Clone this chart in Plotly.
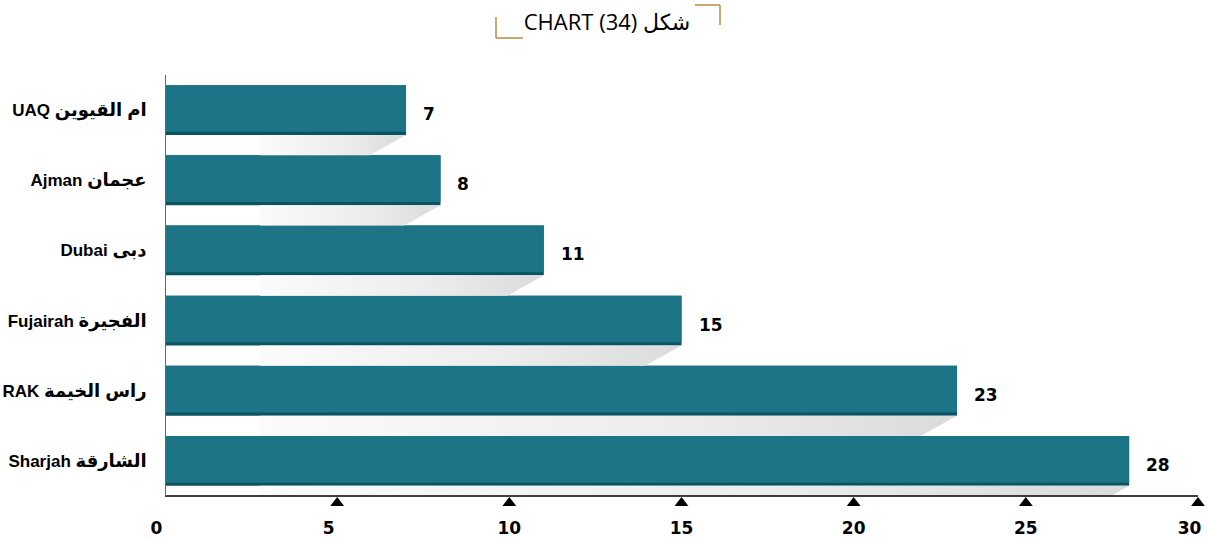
import plotly.graph_objects as go

# ---------------- data ----------------
latin_names = ["UAQ", "Ajman", "Dubai", "Fujairah", "RAK", "Sharjah"]
arabic_names = ["ام القيوين", "عجمان", "دبى", "الفجيرة", "راس الخيمة", "الشارقة"]
values = [7, 8, 11, 15, 23, 28]
x_ticks = [0, 5, 10, 15, 20, 25, 30]
title_text = "CHART (34) شكل"

# ---------------- style / geometry ----------------
W, H = 1208, 540
ML, MR, MT, MB = 165, 1, 75, 33
X_MAX_TICK = 30
PPU_X = (1198 - ML) / X_MAX_TICK          # axis 0..30 spans 165..1198 px
PPU_Y = (496 - MT) / 6.0                  # 6 category slots over 75..496 px
x_max = (W - MR - ML) / PPU_X
y_min = -0.5 - (H - MB - 496) / PPU_Y

TEAL = "#1c7486"
DARK = "#0a5461"
GOLD = "#b9944e"
BAR_W = 0.71
STRIP = 0.045
FONT = "DejaVu Sans, Liberation Sans, sans-serif"
CAT_FONT = "Liberation Sans, Arial, DejaVu Sans, sans-serif"

n = len(values)
pos = [n - 1 - i for i in range(n)]  # first category on top
cat_text = [f"<b>{la} <span style='font-size:18px'>{ar}</span></b>"
            for la, ar in zip(latin_names, arabic_names)]

fig = go.Figure()

# shadows beneath each bar (gradient wedge), cut at the x axis line
for p, v in zip(pos, values):
    y_top = p - BAR_W / 2
    y_bot = p - 1 + BAR_W / 2
    y_eff = max(y_bot, -0.5)
    x_bot = v - 1.05 * (y_top - y_eff) / (y_top - y_bot)
    fig.add_trace(go.Scatter(
        x=[2.76, v, x_bot, 2.76, 2.76],
        y=[y_top, y_top, y_eff, y_eff, y_top],
        mode="lines", line=dict(width=0), fill="toself",
        fillgradient=dict(type="horizontal",
                          colorscale=[[0, "#fbfbfb"], [0.6, "#ececec"], [1, "#dadbdb"]]),
        hoverinfo="skip", showlegend=False,
    ))

# dark bottom strip (full bar) + teal main body
fig.add_trace(go.Bar(
    x=values, y=pos, orientation="h", width=BAR_W,
    marker=dict(color=DARK, line=dict(width=0)),
    hoverinfo="skip", showlegend=False,
))
fig.add_trace(go.Bar(
    x=values, y=pos, orientation="h", width=BAR_W - STRIP,
    offset=-BAR_W / 2 + STRIP,
    marker=dict(color=TEAL, line=dict(width=0)),
    hovertemplate="%{x}<extra></extra>", showlegend=False,
))

# triangle tick markers just below the axis line
tri_x = [t for t in x_ticks if t > 0]
fig.add_trace(go.Scatter(
    x=tri_x, y=[-0.5 - 7 / PPU_Y] * len(tri_x), mode="markers",
    marker=dict(symbol="triangle-up", size=12, color="black", line=dict(width=0)),
    cliponaxis=False, hoverinfo="skip", showlegend=False,
))

fig.update_layout(barmode="overlay")

# value labels
for p, v in zip(pos, values):
    fig.add_annotation(
        x=v, y=p, text=f"<b>{v}</b>", showarrow=False,
        xanchor="left", yanchor="middle", xshift=15, yshift=-4,
        font=dict(family=FONT, size=17, color="black"),
    )

# axis lines
fig.add_shape(type="line", xref="x", yref="y", x0=0, x1=X_MAX_TICK, y0=-0.5, y1=-0.5,
              line=dict(color="black", width=1.5))
fig.add_shape(type="line", xref="x", yref="y", x0=0, x1=0, y0=-0.5, y1=n - 0.5,
              line=dict(color="#666666", width=2))

# gold corner brackets around the title (pixel -> paper)
def px(x):
    return (x - ML) / (W - ML - MR)

def py(y):
    return (H - MB - y) / (H - MT - MB)

gold_line = dict(color=GOLD, width=1.6)
for (x0, y0, x1, y1) in [(695, 5, 720, 5), (720, 5, 720, 25), (496, 17, 496, 38), (496, 38, 523, 38)]:
    fig.add_shape(type="line", xref="paper", yref="paper",
                  x0=px(x0), y0=py(y0), x1=px(x1), y1=py(y1), line=gold_line)

# tick label text (end labels nudged inward like the reference)
tick_text = []
for t in x_ticks:
    pad = "\u2002\u2002" if t in (0, 5, 30) else ""
    tick_text.append(f"<b>{t}</b>{pad}")

fig.update_layout(
    width=W, height=H,
    margin=dict(l=ML, r=MR, t=MT, b=MB, autoexpand=False),
    paper_bgcolor="white", plot_bgcolor="white",
    title=dict(text=title_text, x=0.5 + 3 / W, xref="container", xanchor="center",
               y=1 - 22 / H, yref="container", yanchor="middle",
               font=dict(family="Open Sans, Noto Sans, DejaVu Sans, sans-serif", size=22, color="black")),
    xaxis=dict(range=[0, x_max], tickvals=x_ticks, ticktext=tick_text,
               showgrid=False, zeroline=False, showline=False, automargin=False,
               ticks="outside", ticklen=6, tickcolor="rgba(0,0,0,0)", ticklabeloverflow="allow",
               tickfont=dict(family=FONT, size=17, color="black"), fixedrange=True),
    yaxis=dict(range=[y_min, n - 0.5], tickvals=pos, ticktext=cat_text,
               showgrid=False, zeroline=False, showline=False, automargin=False,
               ticks="outside", ticklen=14, tickcolor="rgba(0,0,0,0)",
               tickfont=dict(family=CAT_FONT, size=17, color="black"), fixedrange=True),
    hovermode="closest",
)

fig.write_html("out.html", config={"displayModeBar": False},
               post_script="document.body.style.margin='0';")
